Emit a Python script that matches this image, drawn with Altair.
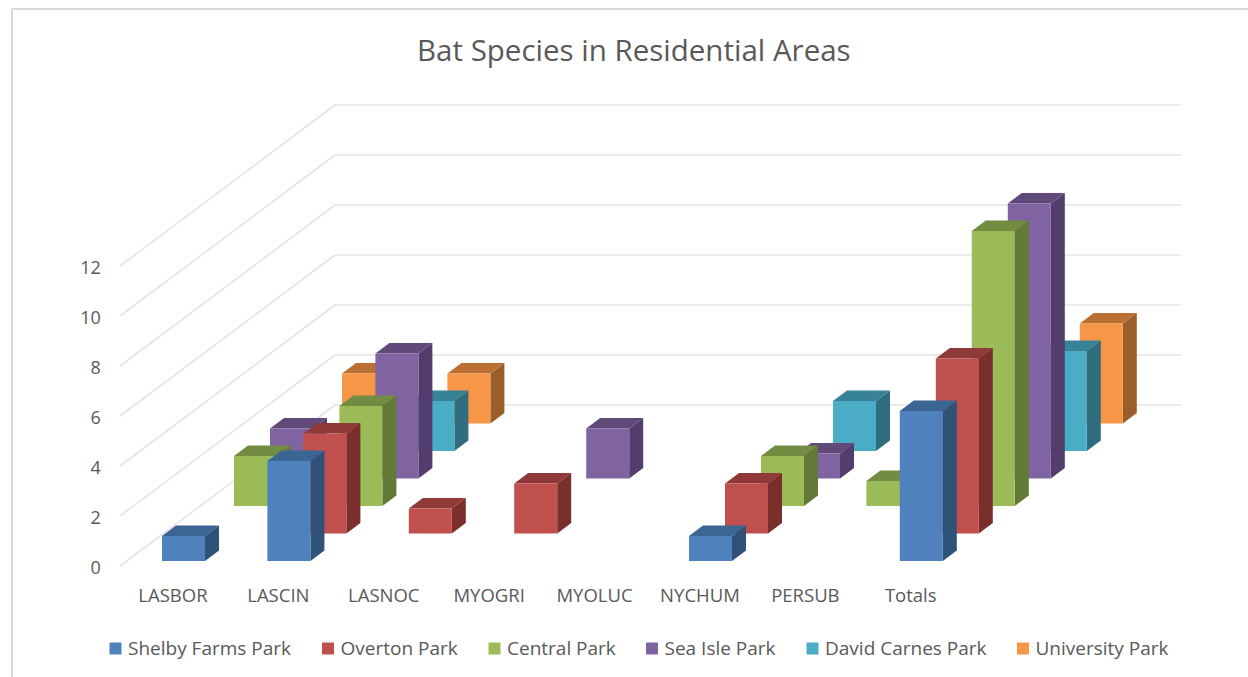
import altair as alt
import pandas as pd

# Bat counts per species and park; a zero means no bar is drawn.
species = ["LASBOR", "LASCIN", "LASNOC", "MYOGRI", "MYOLUC", "NYCHUM", "PERSUB", "Totals"]
parks = ["Shelby Farms Park", "Overton Park", "Central Park",
         "Sea Isle Park", "David Carnes Park", "University Park"]
shelby = [1, 4, 0, 0, 0, 1, 0, 6]
overton = [0, 4, 1, 2, 0, 2, 0, 7]
central = [2, 4, 0, 0, 0, 2, 1, 11]
sea_isle = [2, 5, 0, 2, 0, 1, 0, 11]
david = [0, 2, 0, 0, 0, 2, 0, 4]
university = [2, 2, 0, 0, 0, 0, 0, 4]
counts = [shelby, overton, central, sea_isle, david, university]

front_colors = ["#4F81BD", "#C0504D", "#9BBB59", "#8064A2", "#4BACC6", "#F79646"]
top_colors = ["#3A6594", "#8F3A38", "#728C42", "#5F4A79", "#378297", "#BA7032"]
side_colors = ["#2F5278", "#7A2F2D", "#637936", "#523D6C", "#2F6D7E", "#9A5E2A"]
grid_ticks = [0, 2, 4, 6, 8, 10, 12]

# Oblique projection, in axis units: x counts species, y counts bats.
W, H = 1248, 677
TOP = 80
PX_X, PX_Y = 105.4, 25.0
ORIGIN_X, ORIGIN_Y = 162.0, 566.0
FLOOR = 5.0 / PX_Y
SERIES_DX, SERIES_DY = 36.0 / PX_X, 27.5 / PX_Y
BAR_W = 43.0 / PX_X
FACE_DX, FACE_DY = 14.0 / PX_X, 10.5 / PX_Y
WALL_X0, WALL_X1 = (120 - ORIGIN_X) / PX_X, (335 - ORIGIN_X) / PX_X
WALL_END = (1181 - ORIGIN_X) / PX_X
WALL_DY = 161.0 / PX_Y

x_scale = alt.Scale(domain=[-ORIGIN_X / PX_X, (W - ORIGIN_X) / PX_X], range=[0, W], nice=False, zero=False)
y_scale = alt.Scale(domain=[(ORIGIN_Y - H) / PX_Y, (ORIGIN_Y - TOP) / PX_Y], range=[H - TOP, 0], nice=False, zero=False)
X = alt.X("x:Q", scale=x_scale, axis=None)
Y = alt.Y("y:Q", scale=y_scale, axis=None)
color_scale = alt.Scale(domain=parks, range=front_colors)


def faces(p):
    fronts, sides, tops = [], [], []
    for c, value in enumerate(counts[p]):
        if not value:
            continue
        x0 = c + p * SERIES_DX
        x1 = x0 + BAR_W
        base = FLOOR + p * SERIES_DY
        tip = base + value
        fronts.append({"x": x0, "x2": x1, "y": tip, "y2": base, "Park": parks[p]})
        sides.append({"id": c, "x": x1, "y": tip, "y2": base})
        sides.append({"id": c, "x": x1 + FACE_DX, "y": tip + FACE_DY, "y2": base + FACE_DY})
        tops.append({"id": c, "y": tip, "x": x0, "x2": x1})
        tops.append({"id": c, "y": tip + FACE_DY, "x": x0 + FACE_DX, "x2": x1 + FACE_DX})
    return pd.DataFrame(fronts), pd.DataFrame(sides), pd.DataFrame(tops)


# Chart frame along the top and left edges
frame_left, frame_top = (12 - ORIGIN_X) / PX_X, (ORIGIN_Y - 9) / PX_Y
frame_right, frame_bottom = (W - ORIGIN_X) / PX_X, (ORIGIN_Y - H) / PX_Y
frame = alt.Chart(pd.DataFrame({
    "x": [frame_left, frame_left],
    "x2": [frame_right, frame_left],
    "y": [frame_top, frame_top],
    "y2": [frame_top, frame_bottom],
})).mark_rule(color="#D9D9D9", strokeWidth=2).encode(X, alt.X2("x2:Q"), Y, alt.Y2("y2:Q"))

# Side walls and back wall gridlines
diagonals = alt.Chart(pd.DataFrame({
    "x": [WALL_X0] * len(grid_ticks),
    "x2": [WALL_X1] * len(grid_ticks),
    "y": grid_ticks,
    "y2": [v + WALL_DY for v in grid_ticks],
})).mark_rule(color="#E4E4E4", strokeWidth=1.6).encode(X, alt.X2("x2:Q"), Y, alt.Y2("y2:Q"))
backs = alt.Chart(pd.DataFrame({
    "x": [WALL_X1] * len(grid_ticks),
    "x2": [WALL_END] * len(grid_ticks),
    "y": [v + WALL_DY for v in grid_ticks],
})).mark_rule(color="#E4E4E4", strokeWidth=1.6).encode(X, alt.X2("x2:Q"), Y)

layers = [frame, diagonals, backs]

# Rear series first so nearer bars cover them
for p in reversed(range(len(parks))):
    fr, si, to = faces(p)
    layers.append(alt.Chart(si).mark_area(color=side_colors[p]).encode(
        X, Y, alt.Y2("y2:Q"), detail="id:N"))
    layers.append(alt.Chart(to).mark_area(color=top_colors[p], orient="horizontal").encode(
        X, alt.X2("x2:Q"), Y, detail="id:N"))
    layers.append(alt.Chart(fr).mark_rect().encode(
        X, alt.X2("x2:Q"), Y, alt.Y2("y2:Q"),
        color=alt.Color("Park:N", scale=color_scale, sort=parks, legend=alt.Legend(
            title=None, orient="none", legendX=106, legendY=559, direction="horizontal",
            columns=6, gridAlign="none", symbolType="square", symbolSize=144, symbolStrokeWidth=0,
            labelFont="Open Sans", labelFontSize=19, labelColor="#595959", labelLimit=300,
            columnPadding=26.5, labelOffset=3))))

# Value and species labels
tick_labels = alt.Chart(pd.DataFrame({"x": [-0.58] * len(grid_ticks), "y": grid_ticks})).mark_text(
    align="right", baseline="middle", font="Open Sans", fontSize=18, color="#595959", dy=3
).encode(X, Y, text="y:Q")
cat_labels = alt.Chart(pd.DataFrame({"x": [i + 0.104 for i in range(len(species))],
                                     "y": [-1.2] * len(species), "name": species})).mark_text(
    align="center", baseline="middle", font="Open Sans", fontSize=18.5, color="#595959"
).encode(X, Y, text="name:N")
layers += [tick_labels, cat_labels]

chart = alt.layer(*layers).resolve_scale(color="shared").properties(
    width=W, height=H - TOP,
    padding={"left": 0, "right": 0, "top": TOP, "bottom": 0},
    autosize=alt.AutoSizeParams(type="none"),
    title=alt.TitleParams("Bat Species in Residential Areas", font="Open Sans", fontSize=29.5,
                          fontWeight="normal", color="#595959", anchor="start", offset=-59, dx=417),
).configure_view(stroke=None)

chart.save("out.html", embed_options={"renderer": "svg", "actions": False})
